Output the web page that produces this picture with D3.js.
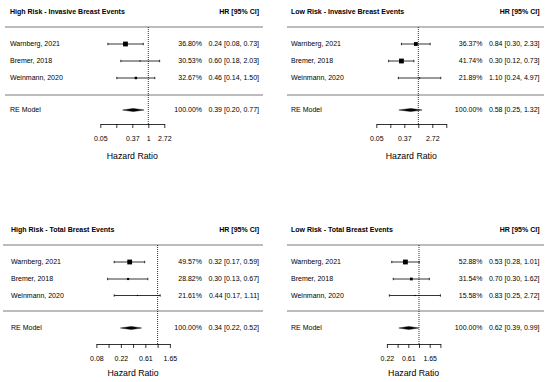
<!DOCTYPE html>
<html>
<head>
<meta charset="utf-8">
<script src="https://cdn.jsdelivr.net/npm/d3@7"></script>
<style>
  html, body { margin: 0; padding: 0; background: #fff; }
  svg { display: block; font-family: "Liberation Sans", Arial, sans-serif; }
</style>
</head>
<body>
<svg id="chart" width="550" height="382"></svg>
<script>
// ---------- data ----------
const panelTitles = [
  "High Risk - Invasive Breast Events",
  "Low Risk - Invasive Breast Events",
  "High Risk - Total Breast Events",
  "Low Risk - Total Breast Events"
];
const studies = ["Warnberg, 2021", "Bremer, 2018", "Weinmann, 2020"];
const hrEst   = [[0.24, 0.60, 0.46], [0.84, 0.30, 1.10], [0.32, 0.30, 0.44], [0.53, 0.70, 0.83]];
const hrLower = [[0.08, 0.18, 0.14], [0.30, 0.12, 0.24], [0.17, 0.13, 0.17], [0.28, 0.30, 0.25]];
const hrUpper = [[0.73, 2.03, 1.50], [2.33, 0.73, 4.97], [0.59, 0.67, 1.11], [1.01, 1.62, 2.72]];
const weights = [[36.80, 30.53, 32.67], [36.37, 41.74, 21.89], [49.57, 28.82, 21.61], [52.88, 31.54, 15.58]];
const reEst   = [0.39, 0.58, 0.34, 0.62];
const reLower = [0.20, 0.25, 0.22, 0.39];
const reUpper = [0.77, 1.32, 0.52, 0.99];
const tickLogs = [
  [-3, -2, -1, 0, 1],
  [-3, -2, -1, 0, 1, 2],
  [-2.5, -2, -1.5, -1, -0.5, 0, 0.5],
  [-1.5, -1, -0.5, 0, 0.5, 1]
];
const tickLabels = [
  ["0.05", "", "0.37", "1", "2.72"],
  ["0.05", "", "0.37", "", "2.72", ""],
  ["0.08", "", "0.22", "", "0.61", "", "1.65"],
  ["0.22", "", "0.61", "", "1.65", ""]
];
const headerRight = "HR [95% CI]";
const reLabel = "RE Model";
const xLabel = "Hazard Ratio";

// ---------- layout (per panel) ----------
const layout = [
  { labelX: 10, lineX0: 5,   lineX1: 263, pctX: 202, hrX: 259, range: [100.3, 164.3],
    titleY: 12, topLine: 27, rows: [44, 61, 78], botLine: 95, reY: 110, axisY: 124, xlabY: 156 },
  { labelX: 291, lineX0: 287, lineX1: 544, pctX: 482.5, hrX: 539.5, range: [376.3, 446.3],
    titleY: 12, topLine: 27, rows: [44, 61, 78], botLine: 95, reY: 110, axisY: 124, xlabY: 156 },
  { labelX: 11, lineX0: 3,   lineX1: 263, pctX: 202, hrX: 259, range: [96.35, 169.85],
    titleY: 230, topLine: 245, rows: [262, 279, 295.5], botLine: 311, reY: 328, axisY: 344, xlabY: 373 },
  { labelX: 291, lineX0: 287, lineX1: 544, pctX: 482.5, hrX: 539.5, range: [386.9, 440.4],
    titleY: 230, topLine: 245, rows: [262, 279, 295.5], botLine: 311, reY: 328, axisY: 344, xlabY: 373 }
];

const svg = d3.select("#chart");
const fs = 7;
const fmt = d3.format(".2f");

panelTitles.forEach((title, p) => {
  const L = layout[p];
  const g = svg.append("g");
  const tl = tickLogs[p];
  const x = d3.scaleLog().base(Math.E)
    .domain([Math.exp(tl[0]), Math.exp(tl[tl.length - 1])])
    .range(L.range);

  // header
  g.append("text").attr("x", L.labelX).attr("y", L.titleY).attr("dy", "0.35em")
    .attr("font-size", fs).attr("font-weight", "bold").text(title);
  g.append("text").attr("x", L.hrX).attr("y", L.titleY).attr("dy", "0.35em")
    .attr("text-anchor", "end").attr("font-size", fs).attr("font-weight", "bold").text(headerRight);

  // horizontal rules
  [L.topLine, L.botLine].forEach(y => {
    g.append("line").attr("x1", L.lineX0).attr("x2", L.lineX1).attr("y1", y).attr("y2", y)
      .attr("stroke", "#7a7a7a").attr("stroke-width", 1.2);
  });

  // reference line at HR = 1
  g.append("line").attr("x1", x(1)).attr("x2", x(1)).attr("y1", L.topLine).attr("y2", L.axisY)
    .attr("stroke", "#000").attr("stroke-width", 0.8).attr("stroke-dasharray", "1,1");

  // box size scale from weights
  const w = weights[p];
  const boxSize = d3.scaleLinear().domain([d3.min(w), d3.max(w)]).range([1.2, 4.8]);

  studies.forEach((s, i) => {
    const y = L.rows[i];
    g.append("text").attr("x", L.labelX).attr("y", y).attr("dy", "0.35em")
      .attr("font-size", fs).text(s);
    // CI line
    const x0 = x(hrLower[p][i]), x1 = x(hrUpper[p][i]);
    g.append("line").attr("x1", x0).attr("x2", x1).attr("y1", y).attr("y2", y)
      .attr("stroke", "#000").attr("stroke-width", 0.8);
    [x0, x1].forEach(xx => {
      g.append("line").attr("x1", xx).attr("x2", xx).attr("y1", y - 1.2).attr("y2", y + 1.2)
        .attr("stroke", "#000").attr("stroke-width", 0.8);
    });
    const b = boxSize(w[i]);
    g.append("rect").attr("x", x(hrEst[p][i]) - b / 2).attr("y", y - b / 2)
      .attr("width", b).attr("height", b).attr("fill", "#000");
    // annotations
    g.append("text").attr("x", L.pctX).attr("y", y).attr("dy", "0.35em")
      .attr("text-anchor", "end").attr("font-size", fs).text(fmt(w[i]) + "%");
    g.append("text").attr("x", L.hrX).attr("y", y).attr("dy", "0.35em")
      .attr("text-anchor", "end").attr("font-size", fs)
      .text(fmt(hrEst[p][i]) + " [" + fmt(hrLower[p][i]) + ", " + fmt(hrUpper[p][i]) + "]");
  });

  // RE model
  g.append("text").attr("x", L.labelX).attr("y", L.reY).attr("dy", "0.35em")
    .attr("font-size", fs).text(reLabel);
  const dh = 1.6;
  g.append("path")
    .attr("d", `M${x(reLower[p])},${L.reY} L${x(reEst[p])},${L.reY - dh} L${x(reUpper[p])},${L.reY} L${x(reEst[p])},${L.reY + dh} Z`)
    .attr("fill", "#000").attr("stroke", "#000").attr("stroke-width", 0.4);
  g.append("text").attr("x", L.pctX).attr("y", L.reY).attr("dy", "0.35em")
    .attr("text-anchor", "end").attr("font-size", fs).text("100.00%");
  g.append("text").attr("x", L.hrX).attr("y", L.reY).attr("dy", "0.35em")
    .attr("text-anchor", "end").attr("font-size", fs)
    .text(fmt(reEst[p]) + " [" + fmt(reLower[p]) + ", " + fmt(reUpper[p]) + "]");

  // axis
  const tv = tl.map(v => Math.exp(v));
  const axis = d3.axisBottom(x).tickValues(tv).tickSizeInner(4).tickSizeOuter(0).tickPadding(8.5)
    .tickFormat((d, i) => tickLabels[p][i]);
  const ag = g.append("g").attr("transform", `translate(0,${L.axisY})`).call(axis);
  ag.select(".domain").attr("stroke", "#000").attr("stroke-width", 0.8);
  ag.selectAll(".tick line").attr("stroke", "#000").attr("stroke-width", 0.8);
  ag.selectAll(".tick text").attr("font-size", fs).attr("font-family", "Liberation Sans, Arial, sans-serif").attr("fill", "#000");

  g.append("text").attr("x", (L.range[0] + L.range[1]) / 2).attr("y", L.xlabY).attr("dy", "0.35em")
    .attr("text-anchor", "middle").attr("font-size", 8.75).text(xLabel);
});
</script>
</body>
</html>
